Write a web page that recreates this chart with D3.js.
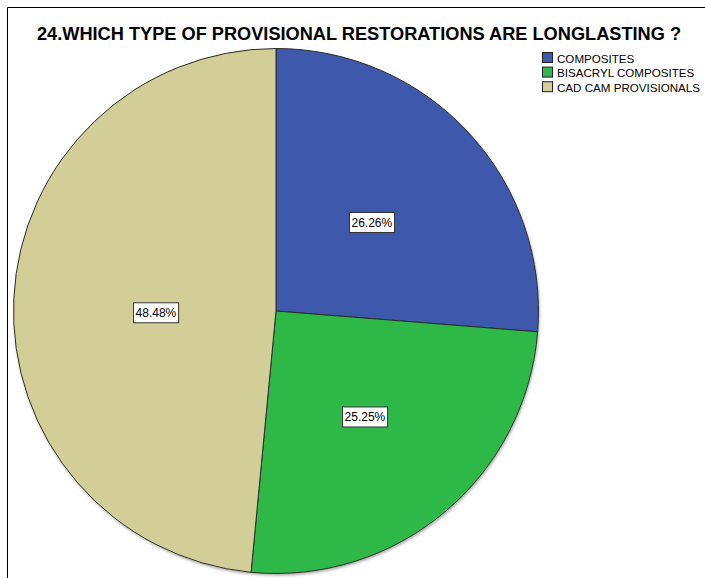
<!DOCTYPE html>
<html>
<head>
<meta charset="utf-8">
<script src="https://cdn.jsdelivr.net/npm/d3@7/dist/d3.min.js"></script>
<style>
  html, body { margin: 0; padding: 0; background: #fff; }
  svg { display: block; font-family: "Liberation Sans", Arial, sans-serif; }
</style>
</head>
<body>
<svg id="chart" width="705" height="578"></svg>
<script>
// Responses to question 24
const categories = ["COMPOSITES", "BISACRYL COMPOSITES", "CAD CAM PROVISIONALS"];
const counts = [26, 25, 48];
const percentLabels = ["26.26%", "25.25%", "48.48%"];
const colors = ["#3E58AC", "#2EB848", "#D3CE97"];
const title = "24.WHICH TYPE OF PROVISIONAL RESTORATIONS ARE LONGLASTING ?";

const width = 705, height = 578;
const svg = d3.select("#chart");

// outer frame (open at right and bottom)
svg.append("path")
  .attr("d", "M7.5,578 L7.5,7.5 L705,7.5")
  .attr("fill", "none").attr("stroke", "#000").attr("stroke-width", 1);

svg.append("text")
  .attr("x", 359).attr("y", 40)
  .attr("text-anchor", "middle")
  .attr("font-size", 18.2).attr("font-weight", "bold")
  .attr("fill", "#000")
  .text(title);

const cx = 276, cy = 311, r = 262.5;
const g = svg.append("g").attr("transform", `translate(${cx},${cy})`);

const pie = d3.pie().sort(null).value(d => d)(counts);
const arc = d3.arc().innerRadius(0).outerRadius(r);

// soft shadow under the pie
const defs = svg.append("defs");
const f = defs.append("filter").attr("id", "shadow").attr("x", "-10%").attr("y", "-10%").attr("width", "120%").attr("height", "120%");
f.append("feGaussianBlur").attr("in", "SourceAlpha").attr("stdDeviation", 1.5);
f.append("feOffset").attr("dx", 1).attr("dy", 2).attr("result", "b");
f.append("feComponentTransfer").append("feFuncA").attr("type", "linear").attr("slope", 0.35);
const m = f.append("feMerge");
m.append("feMergeNode");
m.append("feMergeNode").attr("in", "SourceGraphic");

g.append("circle").attr("r", r).attr("fill", "#fff").attr("filter", "url(#shadow)");

g.selectAll("path.slice")
  .data(pie)
  .join("path")
  .attr("class", "slice")
  .attr("d", arc)
  .attr("fill", (d, i) => colors[i])
  .attr("stroke", "#2b2b2b")
  .attr("stroke-width", 1);

// value labels in boxes
const labelFrac = [0.497, 0.527, 0.458];
const labelShift = [0, 0, 7.5];
pie.forEach((d, i) => {
  const a = (d.startAngle + d.endAngle) / 2;
  const lr = r * labelFrac[i];
  const x = lr * Math.sin(a), y = -lr * Math.cos(a) + labelShift[i];
  const lg = g.append("g").attr("transform", `translate(${x},${y})`);
  const t = lg.append("text")
    .attr("text-anchor", "middle").attr("dy", "0.36em")
    .attr("font-size", 12).attr("fill", "#000")
    .text(percentLabels[i]);
  const bb = t.node().getBBox();
  lg.insert("rect", "text")
    .attr("x", bb.x - 2).attr("y", -10)
    .attr("width", bb.width + 4).attr("height", 20)
    .attr("fill", "#fff").attr("stroke", "#333").attr("stroke-width", 1);
});

// legend
const legend = svg.append("g").attr("transform", "translate(542,52)");
categories.forEach((c, i) => {
  const row = legend.append("g").attr("transform", `translate(0,${i * 14.6})`);
  row.append("rect").attr("x", 0.5).attr("y", 0.5).attr("width", 10).attr("height", 10)
    .attr("fill", colors[i]).attr("stroke", "#222").attr("stroke-width", 1);
  row.append("text").attr("x", 15).attr("y", 10.5)
    .attr("font-size", 11.6).attr("fill", "#000")
    .text(c);
});
</script>
</body>
</html>
